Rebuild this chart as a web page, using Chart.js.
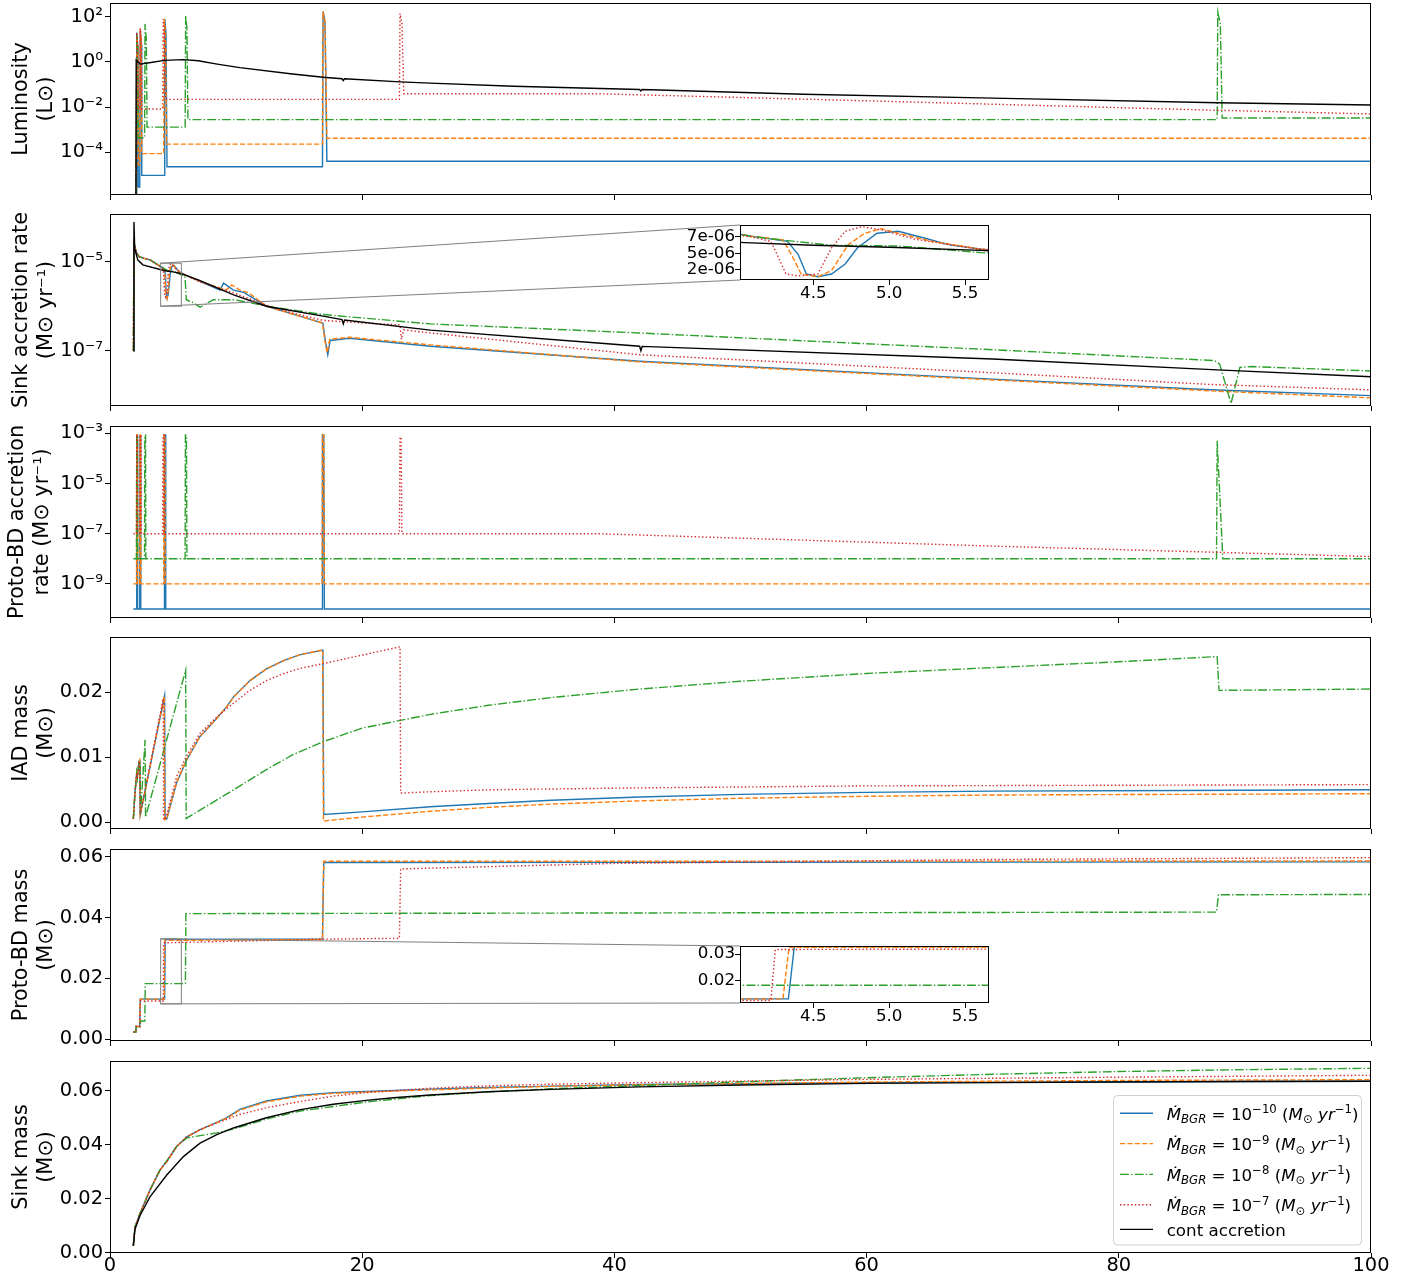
<!DOCTYPE html>
<html><head><meta charset="utf-8">
<script src="https://cdn.jsdelivr.net/npm/chart.js@4/dist/chart.umd.min.js"></script>
<style>
body{margin:0;background:#fff;}
#wrap{position:relative;width:1416px;height:1281px;overflow:hidden;}
canvas{position:absolute;left:0;top:0;}
</style></head>
<body><div id="wrap"></div>
<script>
// ---------------- DATA (time in kyr) ----------------
const seriesNames = ['BGR 1e-10', 'BGR 1e-9', 'BGR 1e-8', 'BGR 1e-7', 'cont accretion'];
const bgrExponents = ['\u221210', '\u22129', '\u22128', '\u22127'];
const xTicks = [0, 20, 40, 60, 80, 100];
const xTickLabels = ['0', '20', '40', '60', '80', '100'];

// Luminosity (L_sun)
const lumBlue = [[2.08,1e-6],[2.12,20],[2.2,5],[2.24,2.9e-6],[2.36,2.9e-6],[2.4,25],[2.48,6],[2.52,9.5e-6],[4.30,9.5e-6],[4.34,80],[4.44,20],[4.52,2.3e-5],[16.85,2.3e-5],[16.9,170],[17.05,60],[17.2,4.0e-5],[100,4.0e-5]];
const lumOrange = [[2.08,1e-6],[2.12,15],[2.2,4],[2.24,2.8e-5],[2.36,2.8e-5],[2.4,30],[2.48,8],[2.52,8.7e-5],[4.26,8.7e-5],[4.3,80],[4.4,20],[4.48,2.3e-4],[16.85,2.3e-4],[16.9,170],[17.05,60],[17.2,4.2e-4],[100,4.2e-4]];
const lumGreen = [[2.08,1e-6],[2.12,18],[2.2,4],[2.24,4.4e-4],[2.74,4.4e-4],[2.78,48],[2.88,10],[2.94,1.3e-3],[5.96,1.3e-3],[6.0,110],[6.1,30],[6.18,2.8e-3],[87.8,2.8e-3],[87.85,160],[88.05,50],[88.2,3.3e-3],[100,3.3e-3]];
const lumRed = [[2.08,1e-6],[2.12,20],[2.2,5],[2.24,8.3e-3],[2.36,8.3e-3],[2.4,30],[2.48,8],[2.52,8.3e-3],[4.18,8.3e-3],[4.22,80],[4.32,20],[4.4,2.2e-2],[22.95,2.2e-2],[23.0,140],[23.15,50],[23.3,3.9e-2],[38.7,3.9e-2],[60,1.9e-2],[87.5,7.3e-3],[100,5.0e-3]];
const lumBlack = [[2.05,1e-7],[2.08,1.2],[2.14,1.1],[2.4,0.8],[3.0,0.9],[4.3,1.17],[5.8,1.26],[7.0,1.12],[8.5,0.80],[10.3,0.56],[14.3,0.30],[16.9,0.21],[18.4,0.18],[18.5,0.15],[18.6,0.18],[23,0.13],[25.4,0.115],[32,0.084],[42,0.060],[42.1,0.052],[42.2,0.060],[55,0.037],[70,0.025],[87.8,0.0155],[100,0.0123]];

// Sink accretion rate (M_sun/yr)
const sinkBlue = [[1.85,1e-7],[1.9,2.6e-5],[2.1,1.6e-5],[2.3,1.3e-5],[2.64,1.2e-5],[3.17,1.1e-5],[4.1,7.54e-6],[4.33,6.8e-6],[4.40,4.85e-6],[4.454,1.9e-6],[4.53,1.5e-6],[4.62,1.9e-6],[4.71,3.4e-6],[4.79,5.8e-6],[4.92,8.0e-6],[5.06,8.3e-6],[5.23,7.3e-6],[5.39,6.3e-6],[5.605,5.6e-6],[7.14,3.6e-6],[8.73,2.3e-6],[9.0,3.3e-6],[9.79,2.3e-6],[10.6,2.05e-6],[12.4,1.0e-6],[15.1,5.9e-7],[16.88,4.2e-7],[17.1,1.5e-7],[17.27,8.1e-8],[17.46,1.7e-7],[19.0,1.9e-7],[25.4,1.26e-7],[42,5.8e-8],[70,2.3e-8],[87.3,1.32e-8],[100,9.8e-9]];
const sinkOrange = [[1.85,1e-7],[1.9,2.6e-5],[2.1,1.6e-5],[2.3,1.3e-5],[2.64,1.2e-5],[3.17,1.1e-5],[4.1,7.54e-6],[4.30,7.0e-6],[4.355,4.85e-6],[4.42,1.9e-6],[4.53,1.5e-6],[4.62,2.4e-6],[4.73,6.3e-6],[4.84,8.0e-6],[4.95,8.7e-6],[5.06,8.0e-6],[5.28,6.8e-6],[5.605,5.6e-6],[7.14,3.6e-6],[9.2,2.3e-6],[9.65,3.0e-6],[10.3,2.3e-6],[11.0,2.0e-6],[12.4,1.0e-6],[15.1,5.9e-7],[16.85,4.2e-7],[17.05,1.6e-7],[17.22,9.0e-8],[17.42,1.8e-7],[19.0,2.0e-7],[25.4,1.35e-7],[42,5.6e-8],[70,2.2e-8],[87.3,1.25e-8],[100,8.7e-9]];
const sinkGreen = [[1.85,1e-7],[1.9,2.6e-5],[2.1,1.6e-5],[2.3,1.3e-5],[2.64,1.2e-5],[3.17,1.1e-5],[4.1,7.5e-6],[4.33,6.9e-6],[4.62,6.2e-6],[5.06,6.1e-6],[5.605,5.1e-6],[5.95,4.7e-6],[6.05,1.4e-6],[6.6,1.2e-6],[7.14,9.5e-7],[8.2,1.4e-6],[9.8,1.4e-6],[11.1,1.2e-6],[12.4,1.0e-6],[16.9,6.5e-7],[25.4,4.0e-7],[42,2.5e-7],[70,1.05e-7],[87.6,6.0e-8],[88.0,5.0e-8],[88.9,6.5e-9],[89.6,4.2e-8],[90.5,4.4e-8],[100,3.5e-8]];
const sinkRed = [[1.85,1e-7],[1.9,2.6e-5],[2.1,1.6e-5],[2.3,1.3e-5],[2.64,1.2e-5],[3.17,1.1e-5],[4.1,7.4e-6],[4.22,6.8e-6],[4.27,4.4e-6],[4.32,1.9e-6],[4.40,1.6e-6],[4.53,1.9e-6],[4.62,5.8e-6],[4.71,8.3e-6],[4.82,9.0e-6],[4.95,8.5e-6],[5.17,7.1e-6],[5.605,5.6e-6],[7.14,3.5e-6],[9.79,2.0e-6],[12.4,1.05e-6],[14.5,7.0e-7],[16.9,4.8e-7],[20,4.2e-7],[23.0,3.8e-7],[23.1,1.8e-7],[23.3,2.95e-7],[25.4,2.5e-7],[42,8.1e-8],[70,3.2e-8],[87.3,1.74e-8],[100,1.32e-8]];
const sinkBlack = [[1.85,1e-7],[1.9,7.8e-5],[1.96,2.0e-5],[2.2,1.1e-5],[2.6,8.5e-6],[4.05,6.6e-6],[4.5,6.2e-6],[5.0,5.9e-6],[5.6,5.44e-6],[7.0,3.9e-6],[9.8,1.8e-6],[12.4,1.0e-6],[16.9,6.0e-7],[18.4,5.0e-7],[18.5,4.0e-7],[18.6,4.9e-7],[25.4,2.9e-7],[42,1.26e-7],[42.1,1.0e-7],[42.2,1.25e-7],[70,6.5e-8],[87.8,3.7e-8],[100,2.6e-8]];

// Proto-BD accretion rate (M_sun/yr)
const pbdBlue = [[1.85,1e-10],[2.1,1e-10],[2.12,8.5e-4],[2.17,8.5e-4],[2.19,1e-10],[2.36,1e-10],[2.38,8.5e-4],[2.43,8.5e-4],[2.45,1e-10],[4.30,1e-10],[4.32,8.5e-4],[4.40,8.5e-4],[4.42,1e-10],[16.82,1e-10],[16.85,8.5e-4],[16.95,8.5e-4],[17.0,1e-10],[100,1e-10]];
const pbdOrange = [[1.85,1e-9],[2.1,1e-9],[2.12,8.5e-4],[2.17,8.5e-4],[2.19,1e-9],[2.36,1e-9],[2.38,8.5e-4],[2.43,8.5e-4],[2.45,1e-9],[4.26,1e-9],[4.28,8.5e-4],[4.36,8.5e-4],[4.38,1e-9],[16.82,1e-9],[16.85,8.5e-4],[16.95,8.5e-4],[17.0,1e-9],[100,1e-9]];
const pbdGreen = [[1.85,1e-8],[2.1,1e-8],[2.12,8.5e-4],[2.17,8.5e-4],[2.19,1e-8],[2.74,1e-8],[2.76,8.5e-4],[2.82,8.5e-4],[2.84,1e-8],[5.96,1e-8],[5.98,8.5e-4],[6.06,8.5e-4],[6.1,1e-8],[87.75,1e-8],[87.8,5e-4],[88.25,1e-8],[100,1e-8]];
const pbdRed = [[1.85,1e-7],[2.1,1e-7],[2.12,8.5e-4],[2.17,8.5e-4],[2.19,1e-7],[2.38,1e-7],[2.4,8.5e-4],[2.45,8.5e-4],[2.47,1e-7],[4.18,1e-7],[4.2,8.5e-4],[4.28,8.5e-4],[4.3,1e-7],[22.95,1e-7],[23.0,7e-4],[23.08,7e-4],[23.15,1e-7],[38.7,1e-7],[70,3.2e-8],[100,1.23e-8]];

// IAD mass (M_sun)
const iadBlue = [[1.85,0.0005],[1.98,0.0045],[2.12,0.0076],[2.17,0.0070],[2.3,0.0094],[2.36,0.0096],[2.4,0.0012],[4.33,0.0195],[4.37,0.0005],[4.5,0.0005],[5.29,0.0061],[6.08,0.0096],[7.14,0.0132],[8.47,0.0160],[9.26,0.0178],[9.79,0.0193],[11.1,0.0218],[12.4,0.0236],[13.8,0.0249],[15.1,0.0258],[16.88,0.0265],[16.95,0.0012],[20,0.0016],[25.4,0.0024],[30,0.0029],[35,0.0034],[42,0.0039],[50,0.0043],[60,0.0046],[70,0.0048],[85,0.0049],[100,0.0050]];
const iadOrange = [[1.85,0.0005],[1.98,0.0045],[2.12,0.0076],[2.17,0.0070],[2.3,0.0094],[2.36,0.0096],[2.4,0.0012],[4.30,0.0194],[4.34,0.0004],[4.5,0.0005],[5.29,0.0062],[6.08,0.0097],[7.14,0.0132],[8.47,0.0160],[9.26,0.0178],[9.79,0.0192],[11.1,0.0218],[12.4,0.0236],[13.8,0.0249],[15.1,0.0258],[16.86,0.0265],[16.93,0.0002],[20,0.0008],[25.4,0.0017],[30,0.0023],[35,0.0028],[42,0.0033],[50,0.0037],[60,0.0040],[70,0.0042],[85,0.0043],[100,0.0044]];
const iadGreen = [[1.85,0.0005],[1.98,0.0045],[2.12,0.0076],[2.17,0.0068],[2.3,0.0092],[2.38,0.0094],[2.42,0.0012],[2.78,0.0127],[2.82,0.0008],[6.0,0.0234],[6.04,0.0006],[7.5,0.0023],[9.8,0.0050],[12.4,0.0081],[14.5,0.0104],[16.9,0.0124],[20,0.0145],[25.4,0.0166],[30,0.0180],[35,0.0192],[42,0.0205],[50,0.0217],[60,0.0229],[70,0.0238],[80,0.0247],[87.8,0.0255],[87.95,0.0203],[100,0.0205]];
const iadRed = [[1.85,0.0005],[1.98,0.0045],[2.12,0.0076],[2.17,0.0068],[2.3,0.0092],[2.36,0.0094],[2.4,0.0012],[4.22,0.0190],[4.25,0.0004],[4.45,0.0008],[5.29,0.0071],[6.08,0.0102],[7.14,0.0137],[8.47,0.0162],[9.26,0.0175],[10.1,0.0188],[11.1,0.0203],[12.4,0.0218],[13.8,0.0229],[15.1,0.0237],[16.88,0.0244],[20.4,0.0259],[23.0,0.0270],[23.05,0.0045],[25.4,0.0047],[30,0.0050],[42,0.0053],[60,0.0056],[80,0.0057],[100,0.0058]];

// Proto-BD mass (M_sun)
const pbmBlue = [[1.85,0.0024],[2.05,0.0024],[2.07,0.0042],[2.36,0.0042],[2.40,0.0132],[4.336,0.0132],[4.375,0.0328],[16.85,0.0330],[16.95,0.0581],[100,0.0583]];
const pbmOrange = [[1.85,0.0024],[2.05,0.0024],[2.07,0.0042],[2.36,0.0042],[2.40,0.0132],[4.30,0.0132],[4.34,0.0325],[16.85,0.0328],[16.95,0.0585],[100,0.0586]];
const pbmGreen = [[1.85,0.0024],[2.05,0.0024],[2.07,0.0042],[2.40,0.0042],[2.42,0.0060],[2.76,0.0060],[2.80,0.0183],[5.98,0.0183],[6.02,0.0413],[87.75,0.0418],[87.9,0.0475],[100,0.0476]];
const pbmRed = [[1.85,0.0024],[2.05,0.0024],[2.07,0.0042],[2.36,0.0042],[2.40,0.0126],[4.22,0.0126],[4.25,0.0317],[16.9,0.0329],[22.95,0.0332],[23.05,0.0560],[40,0.0578],[70,0.0591],[100,0.0597]];

// Sink mass (M_sun)
const smBlue = [[1.85,0.0026],[1.98,0.0095],[2.38,0.0145],[3.17,0.0232],[3.97,0.0307],[4.5,0.0338],[5.29,0.0394],[6.08,0.0429],[7.14,0.0456],[8.47,0.0483],[9.26,0.0500],[10.3,0.0531],[12.4,0.0562],[15.1,0.0583],[17.7,0.0593],[20.3,0.0597],[25.4,0.0606],[30,0.0612],[35,0.0617],[42,0.0623],[60,0.0630],[80,0.0633],[100,0.0635]];
const smOrange = [[1.85,0.0026],[1.98,0.0095],[2.38,0.0145],[3.17,0.0232],[3.97,0.0307],[4.5,0.0336],[5.29,0.0393],[6.08,0.0428],[7.14,0.0455],[8.47,0.0482],[9.26,0.0498],[10.3,0.0528],[12.4,0.0559],[15.1,0.0580],[17.7,0.0590],[20.3,0.0595],[25.4,0.0603],[30,0.0610],[35,0.0616],[42,0.0622],[60,0.0632],[80,0.0638],[100,0.0641]];
const smGreen = [[1.85,0.0026],[1.98,0.0095],[2.38,0.0145],[3.17,0.0232],[3.97,0.0307],[4.5,0.0340],[5.29,0.0394],[6.08,0.0425],[8.47,0.0444],[9.79,0.0458],[12.4,0.0495],[15.1,0.0525],[20.3,0.0558],[25.4,0.0582],[30,0.0596],[35,0.0607],[42,0.0619],[50,0.0633],[60,0.0648],[70,0.0661],[80,0.0671],[90,0.0678],[100,0.0683]];
const smRed = [[1.85,0.0026],[1.98,0.0095],[2.38,0.0145],[3.17,0.0232],[3.97,0.0307],[4.5,0.0338],[5.29,0.0394],[6.08,0.0429],[7.14,0.0456],[8.47,0.0480],[10.3,0.0512],[12.4,0.0537],[15.1,0.0560],[17.7,0.0580],[20.3,0.0593],[25.4,0.0609],[30,0.0618],[35,0.0624],[42,0.0630],[60,0.0642],[80,0.0650],[100,0.0657]];
const smBlack = [[1.85,0.0026],[1.98,0.0087],[2.38,0.0138],[3.17,0.0207],[4.5,0.0288],[5.82,0.0356],[7.14,0.0406],[8.47,0.0437],[9.79,0.0462],[12.4,0.0500],[15.1,0.0530],[17.7,0.0550],[20.3,0.0564],[22.5,0.0574],[25.4,0.0584],[30,0.0596],[35,0.0605],[42,0.0614],[50,0.0621],[60,0.0627],[70,0.0630],[80,0.0632],[90,0.0634],[100,0.0635]];

// ---------------- STYLE / LAYOUT ----------------
const FONT = '"DejaVu Sans", "Liberation Sans", sans-serif';
Chart.defaults.font.family = FONT;
Chart.defaults.color = '#000';
const W = 1416, H = 1281, XL = 110, XR = 1371;
const STY = [
  {c:'#1f77b4', d:[]},
  {c:'#ff7f0e', d:[5.2,2.2]},
  {c:'#2ca02c', d:[8.9,2.2,1.4,2.2]},
  {c:'#d62728', d:[1.4,2.3]},
  {c:'#000000', d:[]}
];
const LW = 1.4;
const wrap = document.getElementById('wrap');

function mkCanvas(){
  const cv = document.createElement('canvas');
  cv.width = W; cv.height = H; cv.style.width = W+'px'; cv.style.height = H+'px';
  wrap.appendChild(cv); return cv;
}
function ds(idx, arr){
  return {label: seriesNames[idx], data: arr.map(p=>({x:p[0], y:p[1]})),
    borderColor: STY[idx].c, borderDash: STY[idx].d, borderWidth: LW,
    pointRadius: 0, pointHoverRadius: 0, fill: false, tension: 0, order: 10-idx, spanGaps: true};
}
const framePlugin = {
  id:'frame',
  beforeDraw(chart){ const a=chart.chartArea, c=chart.ctx; c.save(); c.fillStyle='#fff'; c.fillRect(a.left,a.top,a.right-a.left,a.bottom-a.top); c.restore(); },
  afterDraw(chart){ const a=chart.chartArea, c=chart.ctx; c.save(); c.strokeStyle='#000'; c.lineWidth=1; c.setLineDash([]);
    c.strokeRect(Math.round(a.left)+0.5, Math.round(a.top)+0.5, Math.round(a.right-a.left)-1, Math.round(a.bottom-a.top)-1); c.restore(); }
};
const gridOpt = {display:true, drawOnChartArea:false, drawTicks:true, tickLength:5, color:'#000', lineWidth:1};

const INSET1 = {left:740, top:225, right:989, bottom:280};
const INSET2 = {left:740, top:946, right:989, bottom:1003};
const INSET_X = [4.017, 5.658];

function markPlugin(ylo, yhi, box){
  return {id:'mark', afterDatasetsDraw(chart){
    const xs=chart.scales.x, ys=chart.scales.y, c=chart.ctx;
    const l=xs.getPixelForValue(INSET_X[0]), r=xs.getPixelForValue(INSET_X[1]);
    const t=ys.getPixelForValue(yhi), b=ys.getPixelForValue(ylo);
    c.save(); c.strokeStyle='#808080'; c.lineWidth=1; c.setLineDash([]);
    c.strokeRect(l,t,r-l,b-t);
    c.beginPath(); c.moveTo(l,t); c.lineTo(box.left,box.top); c.moveTo(l,b); c.lineTo(box.left,box.bottom); c.stroke();
    c.restore();
  }};
}

function drawRich(c, runs, x, y, size){
  for(const r of runs){
    const s = (r.sub||r.sup) ? size*0.7 : size;
    c.font = (r.it?'italic ':'') + s.toFixed(2) + 'px ' + FONT;
    const dy = r.sub ? size*0.23 : (r.sup ? -size*0.37 : 0);
    c.fillText(r.t, x, y+dy);
    x += c.measureText(r.t).width;
  }
}
const legendItems = [0,1,2,3,4].map(i => ({
  style: STY[i],
  runs: i<4 ? [{t:'\u1E40',it:1},{t:'BGR',it:1,sub:1},{t:' = 10'},{t:bgrExponents[i],sup:1},{t:' ('},{t:'M',it:1},{t:'\u2299',sub:1},{t:' '},{t:'yr',it:1},{t:'\u22121',sup:1},{t:')'}]
            : [{t:'cont accretion'}]
}));
const legendPlugin = {id:'richLegend', afterDraw(chart){
  const c=chart.ctx; c.save();
  const bx=1113.5, by=1095.5, bw=248, bh=149.5;
  c.beginPath();
  if (c.roundRect) c.roundRect(bx,by,bw,bh,4); else c.rect(bx,by,bw,bh);
  c.fillStyle='rgba(255,255,255,0.85)'; c.fill(); c.strokeStyle='#d0d0d0'; c.lineWidth=1; c.stroke();
  const rows=[1113.3,1143.6,1174.4,1204.7,1229.4];
  legendItems.forEach((it,i)=>{
    const y=rows[i];
    c.beginPath(); c.setLineDash(it.style.d); c.strokeStyle=it.style.c; c.lineWidth=LW;
    c.moveTo(1120,y); c.lineTo(1153,y); c.stroke(); c.setLineDash([]);
    c.fillStyle='#000'; c.textAlign='left'; c.textBaseline='alphabetic';
    drawRich(c, it.runs, 1166.7, y+6.2, 16.7);
  });
  c.restore();
}};

function panel(p){
  const xh = p.xLabels ? 30 : 6;
  return new Chart(mkCanvas(), {
    type:'line',
    data:{datasets:p.datasets},
    options:{
      responsive:false, animation:false, devicePixelRatio:1, events:[],
      layout:{padding:{left:0, right:W-XR, top:p.top, bottom:H-p.bottom-xh}},
      plugins:{legend:{display:false}, tooltip:{enabled:false}},
      scales:{
        x:{type:'linear', min:0, max:100, bounds:'data',
          afterBuildTicks(s){ s.ticks = xTicks.map(v=>({value:v})); },
          afterFit(s){ s.height = xh; s.paddingLeft=0; s.paddingRight=0; },
          ticks:{display:!!p.xLabels, autoSkip:false, maxRotation:0, padding:-1.5, font:{size:19.4, lineHeight:1}, callback:(v,i)=>xTickLabels[i]},
          grid:gridOpt, border:{display:false}},
        y:{type:p.type, min:p.min, max:p.max, bounds:'data',
          afterBuildTicks(s){ s.ticks = p.ticks.map(v=>({value:v})); },
          afterFit(s){ s.width = XL; s.paddingTop=0; s.paddingBottom=0; },
          ticks:{autoSkip:false, padding:2, font:{size:19.4}, callback:(v,i)=>p.labels[i]},
          grid:gridOpt, border:{display:false},
          title:{display:true, text:p.title, font:{size:20.8, lineHeight:1.2}, padding:{top:p.tpad||9.5, bottom:0}}}
      }
    },
    plugins:[framePlugin].concat(p.plugins||[])
  });
}

function inset(p){
  const xh = 25, yw = 60;
  return new Chart(mkCanvas(), {
    type:'line',
    data:{datasets:p.datasets},
    options:{
      responsive:false, animation:false, devicePixelRatio:1, events:[],
      layout:{padding:{left:p.box.left-yw, right:W-p.box.right, top:p.box.top, bottom:H-p.box.bottom-xh}},
      plugins:{legend:{display:false}, tooltip:{enabled:false}},
      scales:{
        x:{type:'linear', min:INSET_X[0], max:INSET_X[1], bounds:'data',
          afterBuildTicks(s){ s.ticks = [4.5,5.0,5.5].map(v=>({value:v})); },
          afterFit(s){ s.height = xh; s.paddingLeft=0; s.paddingRight=0; },
          ticks:{autoSkip:false, maxRotation:0, padding:0, font:{size:16.7, lineHeight:1}, callback:(v,i)=>['4.5','5.0','5.5'][i]},
          grid:gridOpt, border:{display:false}},
        y:{type:'linear', min:p.min, max:p.max, bounds:'data',
          afterBuildTicks(s){ s.ticks = p.ticks.map(v=>({value:v})); },
          afterFit(s){ s.width = yw; s.paddingTop=0; s.paddingBottom=0; },
          ticks:{autoSkip:false, padding:0, font:{size:16.7}, callback:(v,i)=>p.labels[i]},
          grid:gridOpt, border:{display:false}}
      }
    },
    plugins:[framePlugin]
  });
}

// ---------------- BUILD ----------------
panel({top:3, bottom:195, type:'logarithmic', min:Math.pow(10,-5.889), max:Math.pow(10,2.606),
  ticks:[1e-4,1e-2,1,1e2], labels:['10\u207B\u2074','10\u207B\u00B2','10\u2070','10\u00B2'],
  title:['Luminosity','(L\u2299)'],
  datasets:[ds(0,lumBlue),ds(1,lumOrange),ds(2,lumGreen),ds(3,lumRed),ds(4,lumBlack)]});
panel({top:214, bottom:406, type:'logarithmic', min:Math.pow(10,-8.243), max:Math.pow(10,-3.928),
  ticks:[1e-7,1e-5], labels:['10\u207B\u2077','10\u207B\u2075'],
  title:['Sink accretion rate','(M\u2299 yr\u207B\u00B9)'],
  datasets:[ds(0,sinkBlue),ds(1,sinkOrange),ds(2,sinkGreen),ds(3,sinkRed),ds(4,sinkBlack)],
  plugins:[markPlugin(1.0e-6, 9.24e-6, INSET1)]});
panel({top:426, bottom:618, type:'logarithmic', min:Math.pow(10,-10.359), max:Math.pow(10,-2.709),
  ticks:[1e-9,1e-7,1e-5,1e-3], labels:['10\u207B\u2079','10\u207B\u2077','10\u207B\u2075','10\u207B\u00B3'],
  title:['Proto-BD accretion','rate (M\u2299 yr\u207B\u00B9)'], tpad:5,
  datasets:[ds(0,pbdBlue),ds(1,pbdOrange),ds(2,pbdGreen),ds(3,pbdRed)]});
panel({top:637, bottom:829, type:'linear', min:-0.00103, max:0.02851,
  ticks:[0,0.01,0.02], labels:['0.00','0.01','0.02'],
  title:['IAD mass','(M\u2299)'],
  datasets:[ds(0,iadBlue),ds(1,iadOrange),ds(2,iadGreen),ds(3,iadRed)]});
panel({top:849, bottom:1041, type:'linear', min:-0.00056, max:0.06254,
  ticks:[0,0.02,0.04,0.06], labels:['0.00','0.02','0.04','0.06'],
  title:['Proto-BD mass','(M\u2299)'],
  datasets:[ds(0,pbmBlue),ds(1,pbmOrange),ds(2,pbmGreen),ds(3,pbmRed)],
  plugins:[markPlugin(0.01165, 0.0330, INSET2)]});
panel({top:1061, bottom:1253, type:'linear', min:-0.0001, max:0.0710, xLabels:true,
  ticks:[0,0.02,0.04,0.06], labels:['0.00','0.02','0.04','0.06'],
  title:['Sink mass','(M\u2299)'],
  datasets:[ds(0,smBlue),ds(1,smOrange),ds(2,smGreen),ds(3,smRed),ds(4,smBlack)],
  plugins:[legendPlugin]});

inset({box:INSET1, min:1.0e-6, max:9.24e-6, ticks:[2.5e-6,5e-6,7.5e-6], labels:['2e-06','5e-06','7e-06'],
  datasets:[ds(0,sinkBlue),ds(1,sinkOrange),ds(2,sinkGreen),ds(3,sinkRed),ds(4,sinkBlack)]});
inset({box:INSET2, min:0.01165, max:0.0330, ticks:[0.02,0.03], labels:['0.02','0.03'],
  datasets:[ds(0,pbmBlue),ds(1,pbmOrange),ds(2,pbmGreen),ds(3,pbmRed)]});
</script></body></html>
